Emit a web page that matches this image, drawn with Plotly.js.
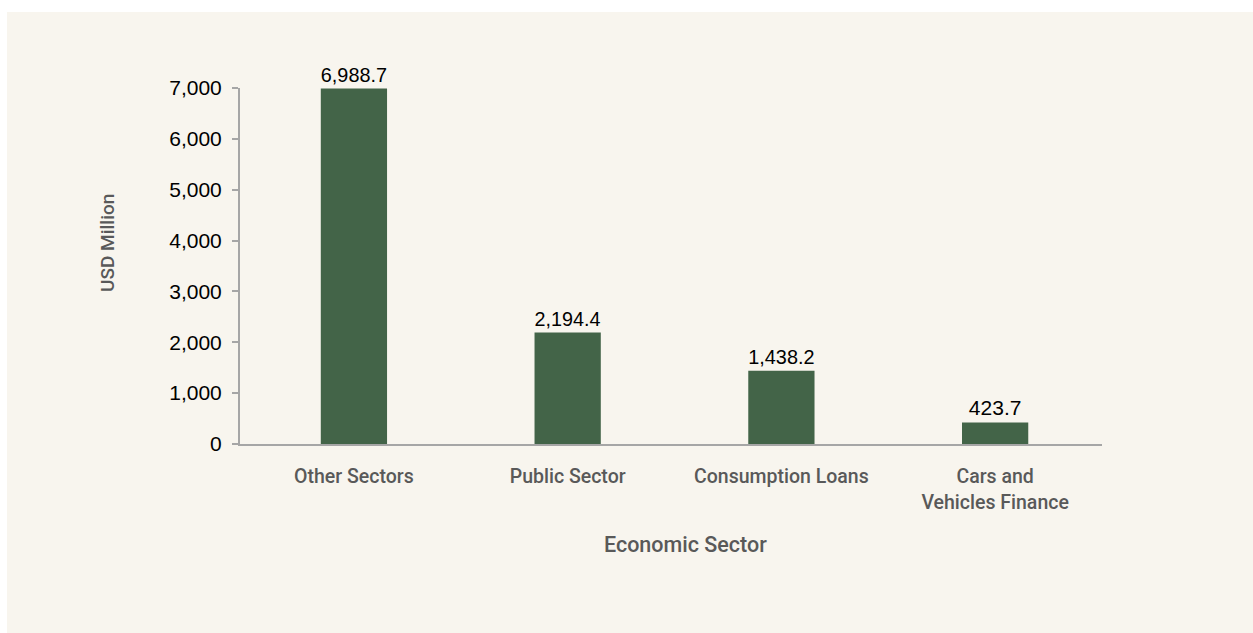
<!DOCTYPE html>
<html>
<head>
<meta charset="utf-8">
<script src="https://cdn.plot.ly/plotly-3.0.1.min.js"></script>
<style>
  html, body { margin: 0; padding: 0; background: #ffffff; width: 1253px; height: 633px; overflow: hidden; }
  #chart { position: absolute; left: 7px; top: 12px; width: 1246px; height: 621px; }
</style>
</head>
<body>
<div id="chart"></div>
<script>
const categories = ["Other Sectors", "Public Sector", "Consumption Loans", "Cars and<br>Vehicles Finance"];
const values = [6988.7, 2194.4, 1438.2, 423.7];
const valueLabels = ["6,988.7", "2,194.4", "1,438.2", "423.7"];
const yTicks = [0, 1000, 2000, 3000, 4000, 5000, 6000, 7000];
const yTickLabels = ["0", "1,000", "2,000", "3,000", "4,000", "5,000", "6,000", "7,000"];

const labelFont = { family: "Roboto, sans-serif", size: 19.5, color: "#595959", weight: 500 };

const trace = {
  type: "bar",
  x: categories,
  y: values,
  text: valueLabels,
  textposition: "outside",
  texttemplate: "%{text}",
  cliponaxis: false,
  textfont: { family: "Liberation Sans, Arial, sans-serif", size: 21, color: "#000000" },
  marker: { color: "#436448", line: { width: 0 } },
  width: 0.31,
  hoverinfo: "skip"
};

const layout = {
  width: 1246,
  height: 621,
  paper_bgcolor: "#f8f5ee",
  plot_bgcolor: "#f8f5ee",
  margin: { l: 233, r: 151, t: 76, b: 189, pad: 0 },
  showlegend: false,
  xaxis: {
    type: "category",
    range: [-0.533, 3.5],
    showgrid: false,
    showline: true,
    linecolor: "#a6a6a6",
    linewidth: 2,
    ticks: "",
    ticklabelstandoff: 14,
    tickfont: labelFont
  },
  yaxis: {
    range: [0, 7000],
    tickvals: yTicks,
    ticktext: yTickLabels,
    showgrid: false,
    zeroline: false,
    showline: true,
    linecolor: "#a6a6a6",
    linewidth: 2,
    ticks: "outside",
    ticklen: 6,
    tickwidth: 2,
    tickcolor: "#a6a6a6",
    ticklabelstandoff: 6,
    tickfont: { family: "Liberation Sans, Arial, sans-serif", size: 21, color: "#000000" }
  },
  annotations: [{
    text: "USD Million",
    xref: "paper", yref: "paper",
    x: -0.1543, y: 0.5646,
    xanchor: "center", yanchor: "middle",
    textangle: -90,
    showarrow: false,
    font: { family: "Roboto, sans-serif", size: 19, color: "#595959", weight: 500 }
  }, {
    text: "Economic Sector",
    xref: "paper", yref: "paper",
    x: 0.5174, y: -0.2809,
    xanchor: "center", yanchor: "middle",
    showarrow: false,
    font: { family: "Roboto, sans-serif", size: 21.5, color: "#595959", weight: 500 }
  }]
};

Plotly.newPlot("chart", [trace], layout, { displayModeBar: false, staticPlot: true });
</script>
</body>
</html>
